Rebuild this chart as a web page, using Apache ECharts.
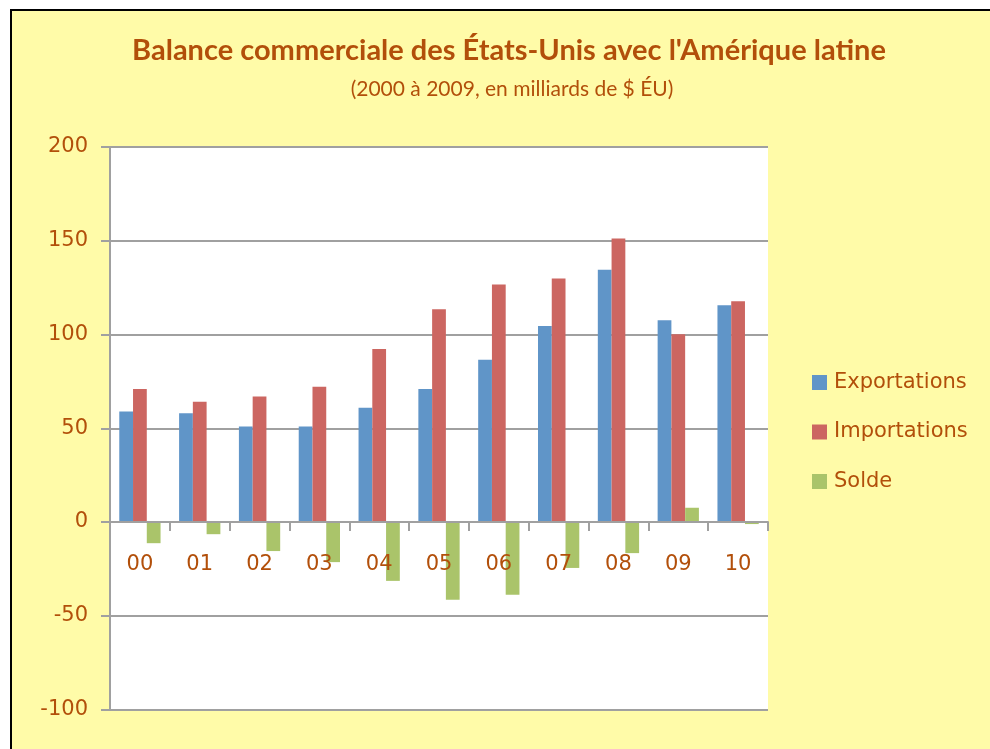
<!DOCTYPE html>
<html>
<head>
<meta charset="utf-8">
<script src="https://cdn.jsdelivr.net/npm/echarts@6/dist/echarts.min.js"></script>
<style>
html,body{margin:0;padding:0;background:#fff;}
#frame{position:absolute;left:10px;top:9px;width:1000px;height:1000px;border:2px solid #000;background:#FFFBA8;box-sizing:border-box;}
#chart{position:absolute;left:0;top:0;width:990px;height:749px;}
</style>
</head>
<body>
<div id="frame"></div>
<div id="chart"></div>
<script>
const categories = ['00','01','02','03','04','05','06','07','08','09','10'];
const exportations = [59, 58, 51, 51, 61, 71, 86.5, 104.5, 134.6, 107.6, 115.6];
const importations = [71, 64.2, 67, 72.2, 92.3, 113.5, 126.7, 129.9, 151.2, 100.2, 117.7];
const solde = [-11.3, -6.5, -15.5, -21.4, -31.4, -41.5, -38.8, -24.5, -16.6, 7.6, -1.1];
const seriesNames = ['Exportations','Importations','Solde'];
const yTicks = {min:-100, max:200, interval:50};

const textColor = '#b24f0a';
const gridColor = '#a0a0a0';

const chart = echarts.init(document.getElementById('chart'), null, {renderer:'canvas'});
chart.setOption({
  backgroundColor: 'transparent',
  animation: false,
  title: [
    {text: 'Balance commerciale des États-Unis avec l\'Amérique latine', left: 504, top: 31, textAlign: 'center',
     textStyle: {fontFamily: 'Lato', fontWeight: 'bold', fontSize: 29, color: textColor}},
    {text: '(2000 à 2009, en milliards de $ ÉU)', left: 507, top: 74, textAlign: 'center',
     textStyle: {fontFamily: 'Lato', fontWeight: 'normal', fontSize: 21, color: textColor}}
  ],
  legend: {
    orient: 'vertical', left: 807, top: 367,
    itemWidth: 15, itemHeight: 15, itemGap: 28.5,
    icon: 'rect',
    textStyle: {fontFamily: 'DejaVu Sans', fontSize: 21, color: textColor, padding: [0,0,0,2]},
    data: seriesNames
  },
  grid: {left: 110, top: 147, right: 222, bottom: 39.5, show: true, backgroundColor: '#fff', borderWidth: 0, containLabel: false, outerBoundsMode: 'none'},
  xAxis: {
    type: 'category', data: categories, z: 5,
    axisLine: {onZero: true, lineStyle: {color: gridColor, width: 2}},
    axisTick: {show: true, length: 9, lineStyle: {color: gridColor, width: 2}},
    axisLabel: {margin: -155, fontFamily: 'DejaVu Sans', fontSize: 21, color: textColor}
  },
  yAxis: {
    type: 'value', min: yTicks.min, max: yTicks.max, interval: yTicks.interval,
    axisLine: {show: true, lineStyle: {color: gridColor, width: 2}},
    axisTick: {show: true, length: 9, lineStyle: {color: gridColor, width: 2}},
    axisLabel: {margin: 22, fontFamily: 'DejaVu Sans', fontSize: 21, color: textColor},
    splitLine: {show: true, lineStyle: {color: gridColor, width: 2}}
  },
  series: [
    {name: seriesNames[0], type: 'bar', data: exportations, barGap: '0%', barCategoryGap: '31%', itemStyle: {color: '#6095C8'}},
    {name: seriesNames[1], type: 'bar', data: importations, barGap: '0%', barCategoryGap: '31%', itemStyle: {color: '#CC6661'}},
    {name: seriesNames[2], type: 'bar', data: solde, barGap: '0%', barCategoryGap: '31%', itemStyle: {color: '#AAC46A'}}
  ]
});
</script>
</body>
</html>
